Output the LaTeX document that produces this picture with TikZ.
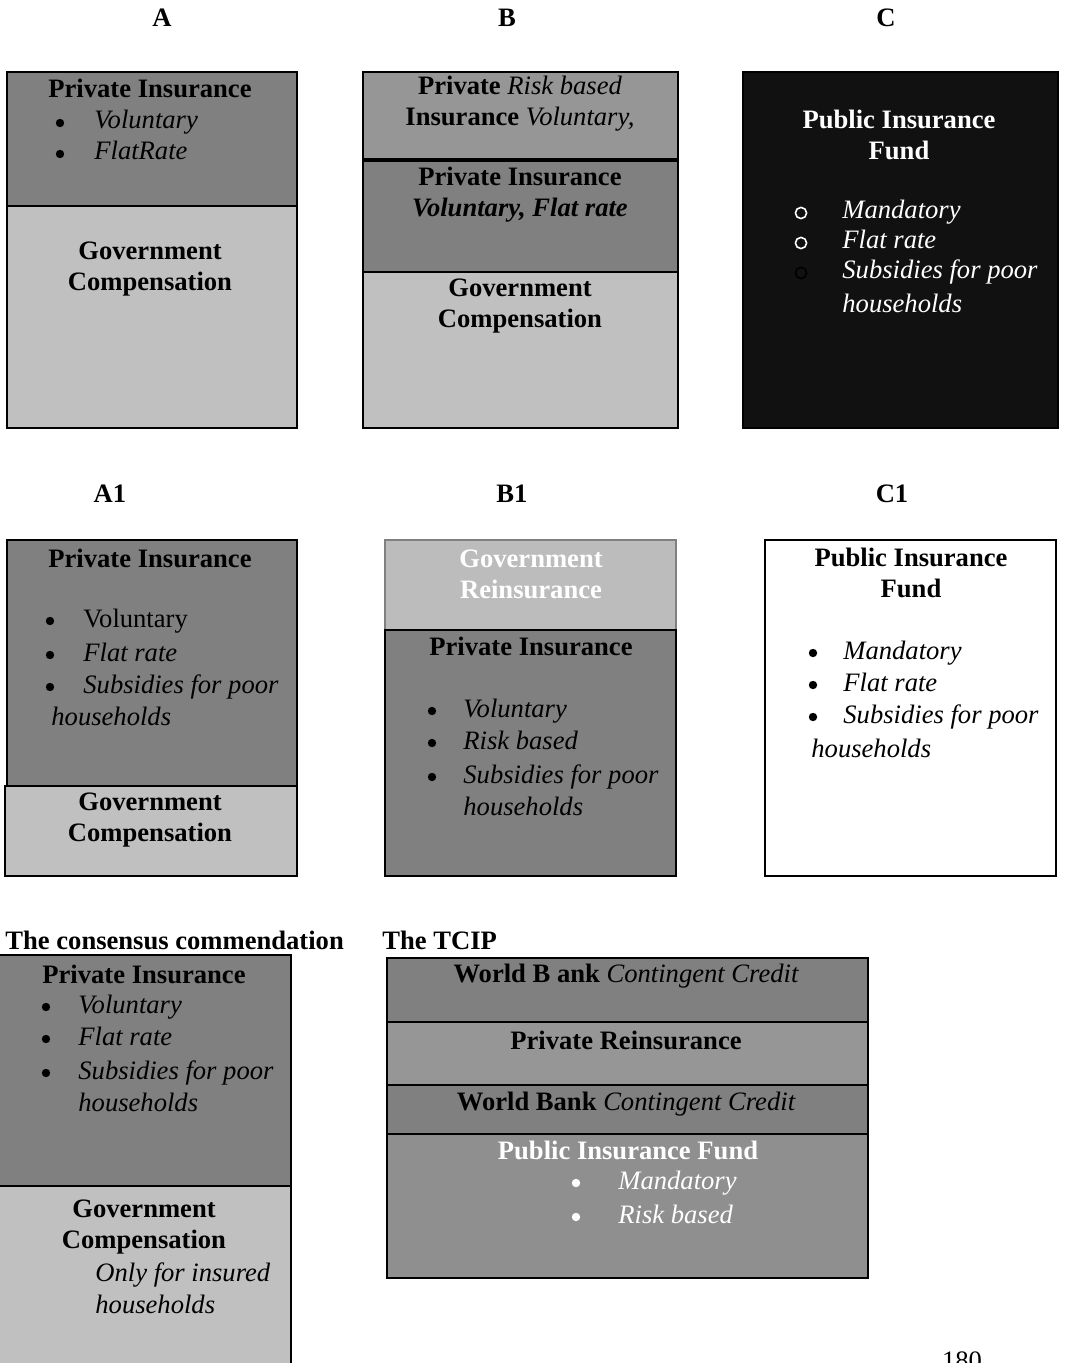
\documentclass[tikz,border=0pt]{standalone}
\usepackage{fontspec}
\setmainfont{Liberation Serif}
\setsansfont{Liberation Sans}
\definecolor{darkgr}{HTML}{808080}
\definecolor{lightgr}{HTML}{C0C0C0}
\definecolor{midgr}{HTML}{969696}
\definecolor{fundgr}{HTML}{8F8F8F}
\definecolor{reingr}{HTML}{BCBCBC}
\definecolor{nightblk}{HTML}{111111}
\begin{document}
\begin{tikzpicture}[x=0.5pt,y=-0.5pt,
    box/.style={draw=black,line width=1pt},
    hd/.style={font=\fontsize{13.3}{15.5}\selectfont\bfseries,align=center,inner sep=0pt},
    itm/.style={font=\fontsize{13.3}{15.5}\selectfont\itshape,anchor=base west,inner sep=0pt},
    dot/.style={circle,fill=black,inner sep=0pt,minimum size=4.2pt}]
    \useasboundingbox (0,0) rectangle (1064,1363);

    % top row
    \node[hd](labA)at(162,18){A};
    \node[hd](labB)at(507,18){B};
    \node[hd](labC)at(886,18){C};

    \filldraw[box,fill=darkgr](7,72)rectangle(297,206);
    \filldraw[box,fill=lightgr](7,206)rectangle(297,428);
    \node[hd](aPriv)at(150,88){Private Insurance};
    \foreach \y/\t in {122/Voluntary,153/FlatRate} {
        \node[dot](aDot\y)at(60,\y+1){};
        \node[itm](aItm\y)at(94,\y+7){\t};
    }
    \node[hd](aGov)at(150,269){Government\\Compensation};

    \filldraw[box,fill=midgr](363,72)rectangle(678,160);
    \filldraw[box,fill=darkgr](363,160)rectangle(678,272);
    \filldraw[box,fill=lightgr](363,272)rectangle(678,428);
    \draw[line width=2pt](363,160)--(678,160);
    \node[hd](bRisk)at(520,104){Private {\mdseries\itshape Risk based}\\Insurance {\mdseries\itshape Voluntary,}};
    \node[hd](bPriv)at(520,195){Private Insurance\\{\itshape Voluntary, Flat rate}};
    \node[hd](bGov)at(520,306){Government\\Compensation};

    \filldraw[box,fill=nightblk](743,72)rectangle(1058,428);
    \node[hd,text=white](cPub)at(899,135){Public Insurance\\Fund};
    \foreach \y/\t/\c in {212/Mandatory/white,242/Flat rate/white,272/Subsidies for poor/black} {
        \node[draw=\c,circle,line width=0.8pt,inner sep=0pt,minimum size=5.6pt](cDot\y)at(801,\y+1){};
        \node[itm,text=white](cItm\y)at(842,\y+7){\t};
    }
    \node[itm,text=white](cHouse)at(842,313){households};

    % middle row
    \node[hd](labA1)at(110,494){A1};
    \node[hd](labB1)at(512,494){B1};
    \node[hd](labC1)at(892,494){C1};

    \filldraw[box,fill=darkgr](7,540)rectangle(297,786);
    \filldraw[box,fill=lightgr](5,786)rectangle(297,876);
    \node[hd](a1Priv)at(150,558){Private Insurance};
    \node[dot](a1Dot1)at(50,621){};
    \node[itm,font=\fontsize{13.3}{15.5}\selectfont](a1Itm1)at(83,627){Voluntary};
    \foreach \y/\t in {654/Flat rate,686/Subsidies for poor} {
        \node[dot](a1Dot\y)at(50,\y+1){};
        \node[itm](a1Itm\y)at(83,\y+7){\t};
    }
    \node[itm](a1House)at(51,725){households};
    \node[hd](a1Gov)at(150,820){Government\\Compensation};

    \filldraw[draw=gray,line width=0.8pt,fill=reingr](385,540)rectangle(676,630);
    \filldraw[box,fill=darkgr](385,630)rectangle(676,876);
    \node[hd,text=white](b1Rein)at(531,574){Government\\Reinsurance};
    \node[hd](b1Priv)at(531,646){Private Insurance};
    \foreach \y/\t in {710/Voluntary,742/Risk based,776/Subsidies for poor} {
        \node[dot](b1Dot\y)at(432,\y+1){};
        \node[itm](b1Itm\y)at(463,\y+7){\t};
    }
    \node[itm](b1House)at(463,815){households};

    \filldraw[box,fill=white](765,540)rectangle(1056,876);
    \node[hd](c1Pub)at(911,573){Public Insurance\\Fund};
    \foreach \y/\t in {652/Mandatory,684/Flat rate,716/Subsidies for poor} {
        \node[dot](c1Dot\y)at(813,\y+1){};
        \node[itm](c1Itm\y)at(843,\y+7){\t};
    }
    \node[itm](c1House)at(811,757){households};

    % bottom row
    \node[hd,anchor=west](labCons)at(5,940){The consensus commendation};
    \node[hd,anchor=west](labTcip)at(382,940){The TCIP};

    \filldraw[box,fill=darkgr](-2,955)rectangle(291,1186);
    \filldraw[box,fill=lightgr](-2,1186)rectangle(291,1375);
    \node[hd](cnPriv)at(144,974){Private Insurance};
    \foreach \y/\t in {1006/Voluntary,1038/Flat rate,1072/Subsidies for poor} {
        \node[dot](cnDot\y)at(46,\y+1){};
        \node[itm](cnItm\y)at(78,\y+7){\t};
    }
    \node[itm](cnHouse)at(78,1111){households};
    \node[hd](cnGov)at(144,1227){Government\\Compensation};
    \node[itm](cnOnly)at(95,1281){Only for insured};
    \node[itm](cnHouse2)at(95,1313){households};

    \filldraw[box,fill=darkgr](387,958)rectangle(868,1022);
    \filldraw[box,fill=midgr](387,1022)rectangle(868,1085);
    \filldraw[box,fill=darkgr](387,1085)rectangle(868,1134);
    \filldraw[box,fill=fundgr](387,1134)rectangle(868,1278);
    \node[hd](tWb1)at(626,976){World B ank {\mdseries\itshape Contingent Credit}};
    \node[hd](tRein)at(626,1040){Private Reinsurance};
    \node[hd](tWb2)at(626,1104){World Bank {\mdseries\itshape Contingent Credit}};
    \node[hd,text=white](tPub)at(628,1150){Public Insurance Fund};
    \foreach \y/\t in {1182/Mandatory,1216/Risk based} {
        \node[dot,fill=white](tDot\y)at(576,\y+1){};
        \node[itm,text=white](tItm\y)at(618,\y+7){\t};
    }

    \node[anchor=base,font=\fontsize{13.3}{15.5}\selectfont](pgNum)at(962,1369){180};
\end{tikzpicture}
\end{document}
